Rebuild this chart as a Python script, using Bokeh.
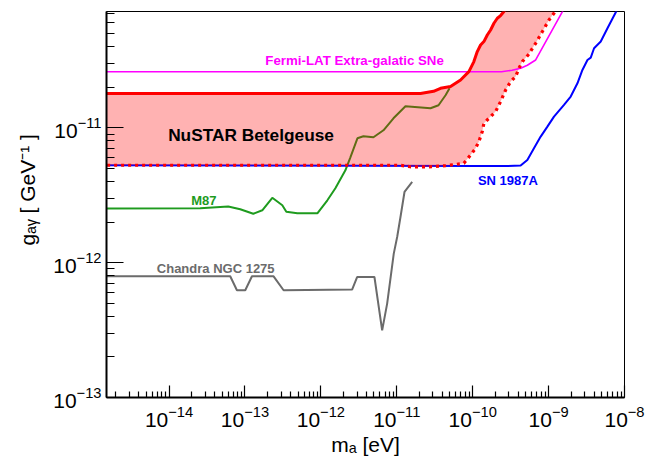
from bokeh.plotting import figure
from bokeh.models import Range1d, FixedTicker, Label
from bokeh.embed import file_html
from bokeh.resources import INLINE

# ---------------- data ----------------
x_major = [1e-14, 1e-13, 1e-12, 1e-11, 1e-10, 1e-9, 1e-8]
y_major = [1e-13, 1e-12, 1e-11]

fermi_m = [1.0e-15, 2.4e-10, 3.3e-10, 4.284e-10, 5.25e-10, 6.757e-10, 1.521e-9, 1.87e-9]
fermi_g = [2.61e-11, 2.61e-11, 2.675e-11, 2.768e-11, 2.913e-11, 3.189e-11, 7.293e-11, 9.0e-11]

nustar_up_m = [1.0e-15, 2.055e-11, 3.049e-11, 3.771e-11, 5.11e-11, 6.926e-11, 8.913e-11,
               1.037e-10, 1.15e-10, 1.271e-10, 1.405e-10, 1.558e-10, 1.722e-10, 1.905e-10,
               2.111e-10, 2.333e-10, 2.58e-10, 2.975e-10]
nustar_up_g = [1.797e-11, 1.797e-11, 1.868e-11, 1.967e-11, 2.025e-11, 2.266e-11, 2.616e-11,
               3.102e-11, 3.681e-11, 4.121e-11, 4.368e-11, 4.889e-11, 5.325e-11, 5.97e-11,
               6.504e-11, 6.81e-11, 7.293e-11, 8.258e-11]

nustar_lo_m = [1.0e-15, 1.119e-11, 1.516e-11, 2.518e-11, 4.39e-11, 7.65e-11, 9.382e-11,
               1.092e-10, 1.207e-10, 1.338e-10, 1.405e-10, 1.636e-10, 2.005e-10, 2.333e-10,
               2.716e-10, 3.162e-10, 3.681e-10, 4.07e-10, 4.512e-10, 5.38e-10, 6.757e-10,
               8.284e-10, 1.012e-9, 1.178e-9, 1.318e-9]
nustar_lo_g = [5.28e-12, 5.28e-12, 5.146e-12, 5.13e-12, 5.235e-12, 5.463e-12, 6.295e-12,
               7.057e-12, 7.913e-12, 9.389e-12, 1.082e-11, 1.178e-11, 1.321e-11, 1.567e-11,
               1.91e-11, 2.205e-11, 2.401e-11, 2.768e-11, 3.102e-11, 3.474e-11, 4.242e-11,
               5.181e-11, 6.317e-11, 7.08e-11, 7.984e-11]

sn_m = [1.0e-15, 1.271e-10, 2.86e-10, 4.284e-10, 5.25e-10, 6.417e-10, 7.865e-10, 9.643e-10,
        1.178e-9, 1.596e-9, 1.956e-9, 2.399e-9, 2.791e-9, 3.25e-9, 3.593e-9, 3.972e-9,
        4.868e-9, 5.966e-9, 7.678e-9, 8.856e-9]
sn_g = [5.28e-12, 5.217e-12, 5.217e-12, 5.253e-12, 5.78e-12, 7.057e-12, 8.62e-12, 1.022e-11,
        1.213e-11, 1.479e-11, 1.707e-11, 2.142e-11, 2.689e-11, 3.189e-11, 3.323e-11, 3.895e-11,
        4.368e-11, 5.481e-11, 7.206e-11, 8.4e-11]

m87_m = [1.0e-15, 2.572e-14, 6.02e-14, 8.67e-14, 1.287e-13, 1.691e-13, 2.292e-13, 3.105e-13,
         3.507e-13, 4.898e-13, 8.99e-13, 1.218e-12, 1.553e-12, 2.104e-12, 2.449e-12, 3.03e-12,
         3.636e-12, 4.927e-12, 6.676e-12, 9.046e-12, 1.302e-11, 2.783e-11, 3.549e-11, 4.39e-11,
         4.958e-11]
m87_g = [2.52e-12, 2.533e-12, 2.608e-12, 2.49e-12, 2.306e-12, 2.447e-12, 3.03e-12, 2.666e-12,
         2.385e-12, 2.326e-12, 2.326e-12, 2.903e-12, 3.563e-12, 4.847e-12, 6.052e-12, 8.371e-12,
         8.663e-12, 8.514e-12, 9.598e-12, 1.178e-11, 1.446e-11, 1.398e-11, 1.471e-11, 1.745e-11,
         1.967e-11]

ngc_m = [1.0e-15, 6.397e-14, 7.842e-14, 1.009e-13, 1.237e-13, 2.384e-13, 3.229e-13, 2.58e-12,
         3.003e-12, 5.079e-12, 6.418e-12, 7.469e-12, 9.128e-12, 1.012e-11, 1.119e-11, 1.264e-11,
         1.596e-11]
ngc_g = [7.926e-13, 7.926e-13, 6.241e-13, 6.241e-13, 7.926e-13, 7.926e-13, 6.241e-13, 6.315e-13,
         7.83e-13, 7.83e-13, 3.15e-13, 4.972e-13, 1.168e-12, 1.551e-12, 2.183e-12, 3.346e-12,
         3.969e-12]

# ---------------- figure ----------------
FONT = "Liberation Sans"
p = figure(width=655, height=459, x_axis_type="log", y_axis_type="log",
           x_range=Range1d(1.5e-15, 1e-8), y_range=Range1d(1e-13, 7.3e-11),
           output_backend="svg", toolbar_location=None,
           min_border_left=106, min_border_right=31, min_border_top=11, min_border_bottom=62)
p.background_fill_color = "white"
p.border_fill_color = "white"
p.outline_line_color = "black"
p.outline_line_width = 1
p.grid.visible = False

x_minor = [k * d for d in [1e-15] + x_major[:-1] for k in range(2, 10)]
y_minor = [k * d for d in [1e-14] + y_major + [1e-10] for k in range(2, 10)]
p.xaxis.ticker = FixedTicker(ticks=x_major, minor_ticks=x_minor)
p.yaxis.ticker = FixedTicker(ticks=y_major, minor_ticks=y_minor)

for ax in (p.xaxis, p.yaxis):
    ax.axis_line_width = 2
    ax.axis_line_color = "black"
    ax.major_tick_out = 0
    ax.minor_tick_out = 0
    ax.major_tick_line_color = "black"
    ax.minor_tick_line_color = "black"
    ax.major_tick_line_width = 1.2
    ax.minor_tick_line_width = 1.2
    ax.major_label_text_font = FONT
    ax.major_label_text_font_size = "21px"
    ax.major_label_text_color = "black"
    ax.axis_label_text_font = FONT
    ax.axis_label_text_font_size = "21px"
    ax.axis_label_text_font_style = "normal"
    ax.axis_label_text_color = "black"
p.xaxis.major_tick_in = 12
p.xaxis.minor_tick_in = 6
p.yaxis.major_tick_in = 17
p.yaxis.minor_tick_in = 8
p.xaxis.major_label_standoff = 8
p.yaxis.major_label_standoff = 5

p.xaxis.axis_label = "m\u2090 [eV]"
p.xaxis.axis_label_standoff = 3
p.yaxis.axis_label = "\u00a0" * 5 + "g\u2090\u1d67 [ GeV\u207b\u00b9 ]"
p.yaxis.axis_label_standoff = 11

# ---------------- curves ----------------
p.line(m87_m, m87_g, line_color="#1e9b1e", line_width=2)
p.line(ngc_m, ngc_g, line_color="#6b6b6b", line_width=2)
p.line(sn_m, sn_g, line_color="#0000ff", line_width=2)

fill_m = nustar_up_m + nustar_lo_m[::-1]
fill_g = nustar_up_g + nustar_lo_g[::-1]
p.patch(fill_m, fill_g, fill_color="#ff0000", fill_alpha=0.3, line_color=None)

p.line(fermi_m, fermi_g, line_color="#ff00ff", line_width=1.6)
p.line(nustar_up_m, nustar_up_g, line_color="#ff0000", line_width=3)
p.line(nustar_lo_m, nustar_lo_g, line_color="#ff0000", line_width=3.2, line_dash="3 4")

# ---------------- in-plot labels ----------------
def lab(x, y, text, color, size):
    p.add_layout(Label(x=x, y=y, text=text, text_color=color, text_font=FONT,
                       text_font_style="bold", text_font_size=size,
                       text_align="left", text_baseline="middle"))

lab(1.853e-13, 3.14e-11, "Fermi-LAT Extra-galatic SNe", "#ff00ff", "13.3px")
lab(9.73e-15, 8.81e-12, "NuSTAR Betelgeuse", "black", "17.3px")
lab(1.958e-14, 2.903e-12, "M87", "#1e9b1e", "13px")
lab(6.9e-15, 8.98e-13, "Chandra NGC 1275", "#6b6b6b", "13px")
lab(1.171e-10, 4.087e-12, "SN 1987A", "#0000ff", "13px")

open("out.html", "w").write(file_html(p, INLINE))
